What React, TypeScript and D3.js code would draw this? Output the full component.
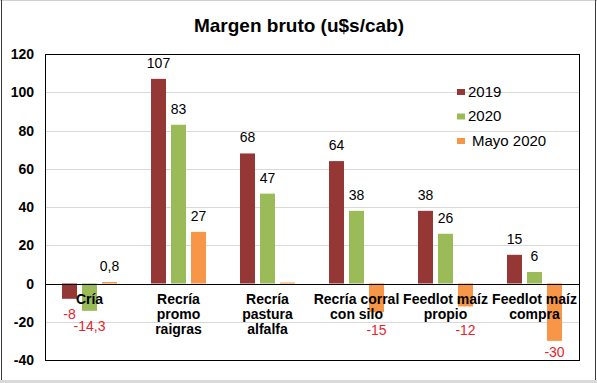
import React from "react";
import * as d3 from "d3";

const categories: string[][] = [
  ["Cría"],
  ["Recría", "promo", "raigras"],
  ["Recría", "pastura", "alfalfa"],
  ["Recría corral", "con silo"],
  ["Feedlot maíz", "propio"],
  ["Feedlot maíz", "compra"],
];
const seriesNames = ["2019", "2020", "Mayo 2020"];
const values2019 = [-8, 107, 68, 64, 38, 15];
const values2020 = [-14.3, 83, 47, 38, 26, 6];
const valuesMayo = [0.8, 27, 0.5, -15, -12, -30];
const labels2019 = ["-8", "107", "68", "64", "38", "15"];
const labels2020 = ["-14,3", "83", "47", "38", "26", "6"];
const labelsMayo = ["0,8", "27", "", "-15", "-12", "-30"];
const yTicks = [-40, -20, 0, 20, 40, 60, 80, 100, 120];
const colors = ["#953735", "#9BBB59", "#F79646"];

const W = 597;
const H = 383;
const FONT = "'Liberation Sans', Arial, sans-serif";

export default function App() {
  const left = 45, right = 579, top = 54, bottom = 360;
  const y = d3.scaleLinear().domain([-40, 120]).range([bottom, top]);
  const x0 = d3.scaleBand<number>().domain(d3.range(categories.length)).range([left, right]).padding(0);
  const x1 = d3.scaleBand<number>().domain([0, 1, 2]).range([-27.5, 27.5]).paddingInner(0.25);
  const series = [values2019, values2020, valuesMayo];
  const labels = [labels2019, labels2020, labelsMayo];
  const y0 = y(0);
  const catY = 304;
  const catLH = 15;

  return (
    <svg width={W} height={H} style={{ position: "absolute", left: 0, top: 0, background: "#fff" }} fontFamily={FONT}>
      {/* outer frame */}
      <line x1={0} y1={0.5} x2={W} y2={0.5} stroke="#d0d0d0" />
      <rect x={0} y={380} width={W} height={3} fill="#d9d9d9" />
      <line x1={1.5} y1={0} x2={1.5} y2={380} stroke="#3a3a3a" />
      <line x1={595.5} y1={0} x2={595.5} y2={380} stroke="#3a3a3a" />

      <text x={299} y={32} textAnchor="middle" fontSize={19} fontWeight="bold" fill="#000">
        Margen bruto (u$s/cab)
      </text>

      {/* gridlines */}
      {yTicks.map((t) => (
        <line key={"g" + t} x1={left} x2={right} y1={Math.round(y(t)) + 0.5} y2={Math.round(y(t)) + 0.5} stroke="#d9d9d9" />
      ))}
      {yTicks.map((t) => (
        <text key={"t" + t} x={34} y={y(t) + 5} textAnchor="end" fontSize={14} fontWeight="bold" fill="#000">
          {t}
        </text>
      ))}

      {/* bars */}
      {series.map((vals, si) =>
        vals.map((v, ci) => {
          const bx = (x0(ci) as number) + x0.bandwidth() / 2 + (x1(si) as number);
          const yy = y(Math.max(0, v));
          const hh = Math.abs(y(v) - y0);
          return <rect key={`b${si}-${ci}`} x={bx} y={yy} width={x1.bandwidth()} height={Math.max(hh, 1)} fill={colors[si]} />;
        })
      )}

      {/* zero line + plot frame */}
      <line x1={left} x2={right} y1={Math.round(y0) + 0.5} y2={Math.round(y0) + 0.5} stroke="#000" />
      <rect x={left + 0.5} y={top + 0.5} width={right - left} height={bottom - top} fill="none" stroke="#000" />

      {/* category labels */}
      {categories.map((lines, ci) => (
        <text key={"c" + ci} textAnchor="middle" fontSize={14} fontWeight="bold" fill="#000">
          {lines.map((l, li) => (
            <tspan key={li} x={(x0(ci) as number) + x0.bandwidth() / 2} y={catY + li * catLH}>
              {l}
            </tspan>
          ))}
        </text>
      ))}

      {/* data labels */}
      {series.map((vals, si) =>
        vals.map((v, ci) => {
          const txt = labels[si][ci];
          if (!txt) return null;
          const cx = (x0(ci) as number) + x0.bandwidth() / 2 + (x1(si) as number) + x1.bandwidth() / 2;
          const neg = v < 0;
          const nLines = categories[ci].length;
          let ly = y(v) - 11;
          if (neg) {
            ly = y(v) + 20;
            if (nLines > 1) ly = Math.max(ly, catY + (nLines - 1) * catLH + 16);
            ly = Math.min(ly, bottom - 3);
          }
          return (
            <text key={`l${si}-${ci}`} x={cx} y={ly} textAnchor="middle" fontSize={14} fill={neg ? "#e8242b" : "#000"}>
              {txt}
            </text>
          );
        })
      )}

      {/* legend */}
      {seriesNames.map((n, i) => (
        <g key={"lg" + i}>
          <rect x={457} y={89 + i * 24.5} width={8} height={6} fill={colors[i]} />
          <text x={i === 2 ? 472 : 468} y={96.5 + i * 24.5} fontSize={15} fill="#000">
            {n}
          </text>
        </g>
      ))}
    </svg>
  );
}
